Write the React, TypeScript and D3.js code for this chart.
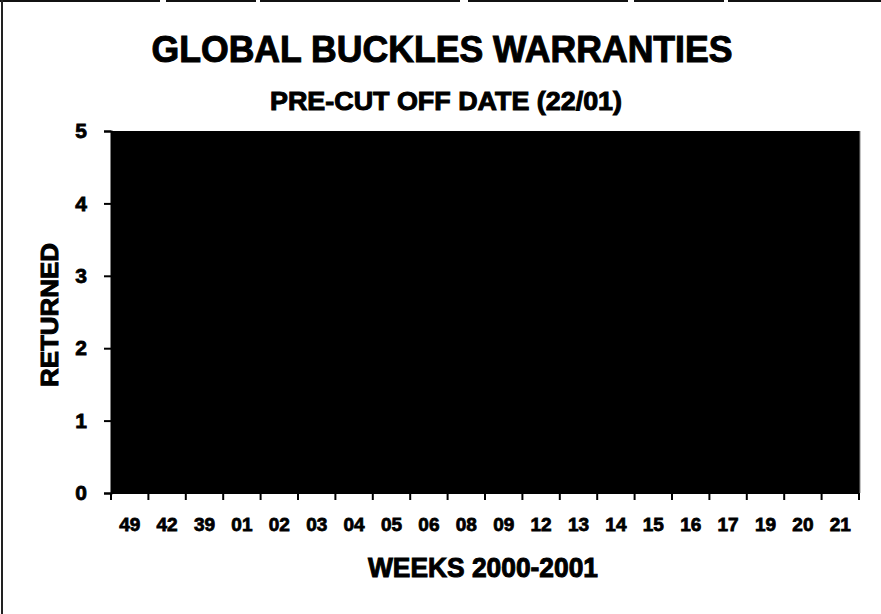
import { useRef, useEffect } from "react";
import * as d3 from "d3";

// week labels as printed on the x axis
const weeks: string[] = [
    "49", "42", "39", "01", "02", "03", "04", "05", "06", "08",
    "09", "12", "13", "14", "15", "16", "17", "19", "20", "21"
];

// returned count per week (the plot is solid black up to 5 everywhere)
const returned: number[] = [5, 5, 5, 5, 5, 5, 5, 5, 5, 5, 5, 5, 5, 5, 5, 5, 5, 5, 5, 5];

const yTicks: number[] = [0, 1, 2, 3, 4, 5];

const title = "GLOBAL BUCKLES WARRANTIES";
const subtitle = "PRE-CUT OFF DATE (22/01)";
const xTitle = "WEEKS 2000-2001";
const yTitle = "RETURNED";

const W = 881;
const H = 614;
const plot = { left: 111, right: 859, top: 131, bottom: 493 };
const font = "'Liberation Sans', Arial, sans-serif";

export default function App() {
    const svgRef = useRef<SVGSVGElement>(null);

    useEffect(() => {
        const svg = d3.select<SVGSVGElement, unknown>(svgRef.current as SVGSVGElement);
        svg.selectAll("*").remove();

        svg.append("rect").attr("width", W).attr("height", H).attr("fill", "#fff");

        // scan frame edges
        svg.append("line").attr("x1", 0).attr("x2", W).attr("y1", 1).attr("y2", 1)
            .attr("stroke", "#111").attr("stroke-width", 2).attr("stroke-dasharray", "160 6 90 4 200 8");
        svg.append("line").attr("x1", 2).attr("x2", 2).attr("y1", 0).attr("y2", H)
            .attr("stroke", "#222").attr("stroke-width", 2);

        const x = d3.scaleBand<string>().domain(weeks).range([plot.left, plot.right]).padding(0);
        const y = d3.scaleLinear().domain([0, 5]).range([plot.bottom, plot.top]);

        // bars
        svg.append("g")
            .attr("shape-rendering", "crispEdges")
            .selectAll("rect")
            .data(weeks)
            .join("rect")
            .attr("x", d => Math.floor(x(d) as number))
            .attr("y", (_d, i) => y(returned[i]))
            .attr("width", x.bandwidth() + 1.5)
            .attr("height", (_d, i) => y(0) - y(returned[i]))
            .attr("fill", "#000");

        svg.append("line")
            .attr("x1", plot.right + 1).attr("x2", plot.right + 1)
            .attr("y1", plot.top).attr("y2", plot.bottom)
            .attr("stroke", "#888").attr("stroke-width", 1);

        // y axis
        svg.append("g")
            .attr("transform", `translate(${plot.left},0)`)
            .call(d3.axisLeft(y).tickValues(yTicks).tickFormat(d3.format("d")).tickSize(7).tickPadding(17))
            .call(g => g.select(".domain").attr("stroke", "#000").attr("stroke-width", 2))
            .call(g => g.selectAll(".tick line").attr("stroke", "#000").attr("stroke-width", 2))
            .call(g => g.selectAll(".tick text")
                .attr("fill", "#000")
                .attr("stroke", "#000")
                .attr("stroke-width", 0.8)
                .style("font-family", font)
                .style("font-weight", "bold")
                .style("font-size", "21px"));

        // x axis: labels in the middle of each band, ticks on band edges
        const gx = svg.append("g")
            .attr("transform", `translate(0,${plot.bottom})`)
            .call(d3.axisBottom(x).tickSize(0).tickPadding(25))
            .call(g => g.select(".domain").remove())
            .call(g => g.selectAll(".tick text")
                .attr("fill", "#000")
                .attr("stroke", "#000")
                .attr("stroke-width", 0.8)
                .style("font-family", font)
                .style("font-weight", "bold")
                .style("font-size", "19px"));

        const edges = weeks.map(d => x(d) as number).concat([plot.right]);
        gx.selectAll("line.edge")
            .data(edges)
            .join("line")
            .attr("class", "edge")
            .attr("x1", d => d).attr("x2", d => d)
            .attr("y1", 0).attr("y2", 7)
            .attr("stroke", "#000").attr("stroke-width", 2);
        gx.append("line")
            .attr("x1", plot.left).attr("x2", plot.right)
            .attr("y1", 0).attr("y2", 0)
            .attr("stroke", "#000").attr("stroke-width", 2);

        // titles
        const txt = (s: string, cx: number, cy: number, size: number, len: number) =>
            svg.append("text")
                .attr("x", cx).attr("y", cy)
                .attr("text-anchor", "middle")
                .attr("textLength", len)
                .attr("lengthAdjust", "spacingAndGlyphs")
                .style("font-family", font)
                .style("font-weight", "bold")
                .style("font-size", `${size}px`)
                .attr("fill", "#000")
                .attr("stroke", "#000")
                .attr("stroke-width", 1)
                .text(s);

        txt(title, 442, 62, 36, 581);
        txt(subtitle, 446, 110, 26, 352);
        txt(xTitle, 483, 577, 28, 230);

        svg.append("text")
            .attr("transform", `translate(58,315) rotate(-90)`)
            .attr("text-anchor", "middle")
            .attr("textLength", 144)
            .attr("lengthAdjust", "spacingAndGlyphs")
            .style("font-family", font)
            .style("font-weight", "bold")
            .style("font-size", "24px")
            .attr("fill", "#000")
            .attr("stroke", "#000")
            .attr("stroke-width", 1)
            .text(yTitle);
    }, []);

    return (
        <svg ref={svgRef} width={W} height={H}
            style={{ position: "absolute", left: 0, top: 0, display: "block" }} />
    );
}
